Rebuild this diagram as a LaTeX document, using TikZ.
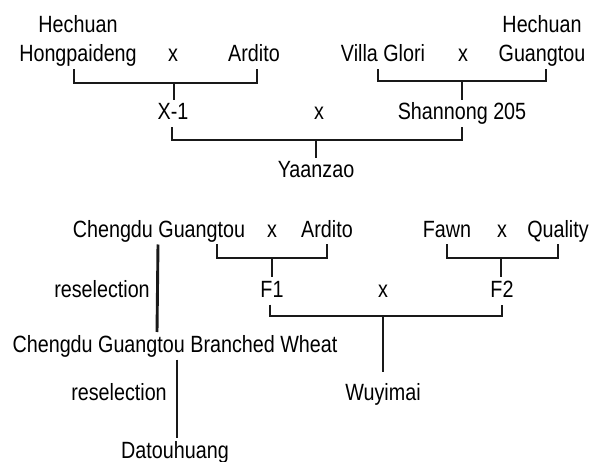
\documentclass[tikz,border=0pt]{standalone}
\usepackage{fontspec}
\setmainfont{Liberation Sans}[FakeStretch=0.84]
\usepackage{tikz}
\usetikzlibrary{positioning}
\tikzset{
    % Cultivar names and crosses
    cvtxt/.style={inner sep=0pt, outer sep=3pt, text height=17pt, text depth=4.5pt,
                 font=\fontsize{23.5}{27}\selectfont},
    cv/.style={cvtxt, anchor=base},
    % Pedigree lines
    lineage/.style={line width=2.9pt, black!90},
}

\begin{document}
\begin{tikzpicture}[x=1pt, y=-1pt, label distance=1.5pt]
\useasboundingbox (0,0) rectangle (591,462);

% Yaanzao
\node[cv, label={[cvtxt]above:Hechuan}] (hpd)    at (78,62)   {Hongpaideng};
\node[cv] (crossa) at (173,62)  {x};
\node[cv] (ard1)   at (254,62)  {Ardito};
\node[cv] (vg)     at (383,62)  {Villa Glori};
\node[cv] (crossb) at (463,62)  {x};
\node[cv, label={[cvtxt]above:Hechuan}] (hgt)    at (542,62)  {Guangtou};
\node[cv] (x1)     at (173,120) {X-1};
\node[cv] (crossc) at (319,120) {x};
\node[cv] (sn205)  at (462,120) {Shannong 205};
\node[cv] (yaz)    at (316,178) {Yaanzao};

\coordinate (ja) at (174,83);
\coordinate (jb) at (462,81);
\coordinate (jc) at (316,140);
\draw[lineage] ([xshift=-4pt]hpd.south) |- (ja) -| ([xshift=3pt]ard1.south);
\draw[lineage] (ja) -- (ja |- x1.north);
\draw[lineage] ([xshift=-5pt]vg.south) |- (jb) -| ([xshift=4pt]hgt.south);
\draw[lineage] (jb) -- (jb |- sn205.north);
\draw[lineage] ([xshift=-1pt]x1.south) |- (jc) -| (sn205.south);
\draw[lineage] (jc) -- (jc |- yaz.north);

% Wuyimai and Datouhuang
\node[cv] (cgt)    at (159,237) {Chengdu Guangtou};
\node[cv] (crossd) at (272,237) {x};
\node[cv] (ard2)   at (327,237) {Ardito};
\node[cv] (fawn)   at (447,237) {Fawn};
\node[cv] (crosse) at (502,237) {x};
\node[cv] (qual)   at (558,237) {Quality};
\node[cv] (res1)   at (102,297) {reselection};
\node[cv] (f1)     at (272,297) {F1};
\node[cv] (crossf) at (383,297) {x};
\node[cv] (f2)     at (502,297) {F2};
\node[cv] (cgbw)   at (175,352) {Chengdu Guangtou Branched Wheat};
\node[cv] (res2)   at (119,400) {reselection};
\node[cv] (wuy)    at (383,400) {Wuyimai};
\node[cv] (dth)    at (175,458) {Datouhuang};

\coordinate (jd) at (272,258);
\coordinate (je) at (501,258);
\coordinate (jf) at (383,316);
\draw[lineage] ([xshift=58pt]cgt.south) |- (jd) -| (ard2.south);
\draw[lineage] (jd) -- (jd |- f1.north);
\draw[lineage] (fawn.south) |- (je) -| (qual.south);
\draw[lineage] (je) -- (je |- f2.north);
\draw[lineage] ([xshift=-2pt]f1.south) |- (jf) -| (f2.south);
\draw[lineage] (jf) -- ([yshift=8pt]wuy.north);
\draw[lineage] ([xshift=-1pt]cgt.south) -- ([xshift=-18pt]cgbw.north);
\draw[lineage] ([xshift=2pt]cgbw.south) -- ([xshift=2pt]dth.north);
\end{tikzpicture}
\end{document}
